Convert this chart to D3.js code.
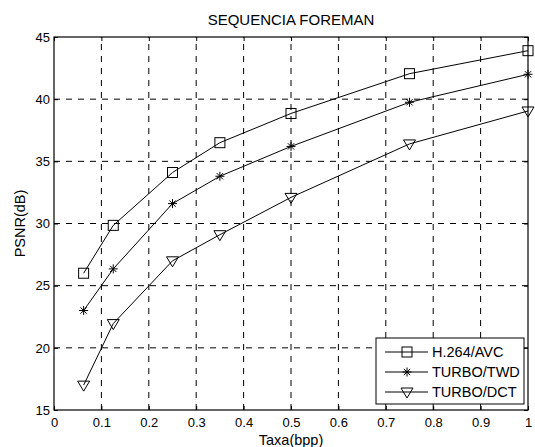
<!DOCTYPE html>
<html>
<head>
<meta charset="utf-8">
<script src="https://cdn.jsdelivr.net/npm/d3@7"></script>
<style>
  body { margin: 0; background: #fff; }
  text { font-family: Arial, "Liberation Sans", sans-serif; fill: #000; }
</style>
</head>
<body>
<div id="chart"></div>
<script>
// rate points (bpp)
const rates = [0.0625, 0.125, 0.25, 0.35, 0.5, 0.75, 1];
const h264 = [26.0, 29.85, 34.1, 36.5, 38.85, 42.05, 43.9];
const turboTwd = [23.0, 26.35, 31.6, 33.8, 36.2, 39.75, 42.0];
const turboDct = [17.0, 21.95, 27.0, 29.1, 32.1, 36.4, 39.05];
const seriesNames = ['H.264/AVC', 'TURBO/TWD', 'TURBO/DCT'];
const markers = ['square', 'star', 'triangle'];
const xTicks = [0, 0.1, 0.2, 0.3, 0.4, 0.5, 0.6, 0.7, 0.8, 0.9, 1];
const yTicks = [15, 20, 25, 30, 35, 40, 45];

const width = 535, height = 447;
const margin = {left: 54, top: 37, right: 7, bottom: 37};

const svg = d3.select('#chart').append('svg')
  .attr('width', width).attr('height', height);

const x = d3.scaleLinear().domain([0, 1]).range([margin.left, width - margin.right]);
const y = d3.scaleLinear().domain([15, 45]).range([height - margin.bottom, margin.top]);

// grid
svg.append('g').selectAll('line')
  .data(xTicks.slice(1, -1))
  .join('line')
  .attr('x1', d => x(d)).attr('x2', d => x(d))
  .attr('y1', y(15)).attr('y2', y(45))
  .attr('stroke', '#000').attr('stroke-width', 1)
  .attr('stroke-dasharray', '6,6');

svg.append('g').selectAll('line')
  .data(yTicks.slice(1, -1))
  .join('line')
  .attr('x1', x(0)).attr('x2', x(1))
  .attr('y1', d => y(d)).attr('y2', d => y(d))
  .attr('stroke', '#000').attr('stroke-width', 1)
  .attr('stroke-dasharray', '6,6');

// axes
svg.append('g')
  .attr('transform', `translate(0,${y(15)})`)
  .call(d3.axisBottom(x).tickValues(xTicks).tickSizeInner(-4).tickSizeOuter(0)
    .tickPadding(8).tickFormat(d3.format('~g')));
svg.append('g')
  .attr('transform', `translate(${x(0)},0)`)
  .call(d3.axisLeft(y).tickValues(yTicks).tickSizeInner(-4).tickSizeOuter(0).tickPadding(4));

// top / right tick marks
svg.append('g')
  .attr('transform', `translate(0,${y(45)})`)
  .call(d3.axisTop(x).tickValues(xTicks).tickSizeInner(-4).tickSizeOuter(0).tickFormat(''));
svg.append('g')
  .attr('transform', `translate(${x(1)},0)`)
  .call(d3.axisRight(y).tickValues(yTicks).tickSizeInner(-4).tickSizeOuter(0).tickFormat(''));

svg.selectAll('.domain').remove();
svg.selectAll('.tick line').attr('stroke', '#000');
svg.selectAll('.tick text').attr('font-size', 13).attr('fill', '#000');

svg.append('rect')
  .attr('x', x(0)).attr('y', y(45))
  .attr('width', x(1) - x(0)).attr('height', y(15) - y(45))
  .attr('fill', 'none').attr('stroke', '#000').attr('stroke-width', 1.2);

// markers
function drawMarker(g, type) {
  if (type === 'square') {
    g.append('rect').attr('x', -5).attr('y', -5).attr('width', 10).attr('height', 10)
      .attr('fill', 'none').attr('stroke', '#000');
  } else if (type === 'star') {
    const r = 4.5;
    [[-r, 0, r, 0], [0, -r, 0, r], [-r * 0.7, -r * 0.7, r * 0.7, r * 0.7], [-r * 0.7, r * 0.7, r * 0.7, -r * 0.7]]
      .forEach(s => g.append('line').attr('x1', s[0]).attr('y1', s[1]).attr('x2', s[2]).attr('y2', s[3])
        .attr('stroke', '#000'));
  } else {
    g.append('path').attr('d', 'M-6,-4L6,-4L0,6Z')
      .attr('fill', 'none').attr('stroke', '#000');
  }
}

const allSeries = [h264, turboTwd, turboDct];
const line = d3.line().x((d, i) => x(rates[i])).y(d => y(d));

allSeries.forEach((vals, si) => {
  svg.append('path').datum(vals)
    .attr('d', line).attr('fill', 'none').attr('stroke', '#000').attr('stroke-width', 1);
  vals.forEach((v, i) => {
    const g = svg.append('g').attr('transform', `translate(${x(rates[i])},${y(v)})`);
    drawMarker(g, markers[si]);
  });
});

// legend
const legend = svg.append('g').attr('transform', 'translate(376,338)');
legend.append('rect').attr('width', 148).attr('height', 66)
  .attr('fill', '#fff').attr('stroke', '#000');
seriesNames.forEach((name, i) => {
  const ly = 14 + i * 20;
  legend.append('line').attr('x1', 9).attr('x2', 52).attr('y1', ly).attr('y2', ly).attr('stroke', '#000');
  const g = legend.append('g').attr('transform', `translate(31,${ly})`);
  drawMarker(g, markers[i]);
  legend.append('text').attr('x', 56).attr('y', ly + 5).attr('font-size', 14.5).text(name);
});

// titles
svg.append('text').attr('x', (x(0) + x(1)) / 2).attr('y', 25)
  .attr('text-anchor', 'middle').attr('font-size', 15).text('SEQUENCIA FOREMAN');
svg.append('text').attr('x', (x(0) + x(1)) / 2).attr('y', 445)
  .attr('text-anchor', 'middle').attr('font-size', 14.5).text('Taxa(bpp)');
svg.append('text')
  .attr('transform', `translate(25,${(y(15) + y(45)) / 2}) rotate(-90)`)
  .attr('text-anchor', 'middle').attr('font-size', 14.5).text('PSNR(dB)');
</script>
</body>
</html>
